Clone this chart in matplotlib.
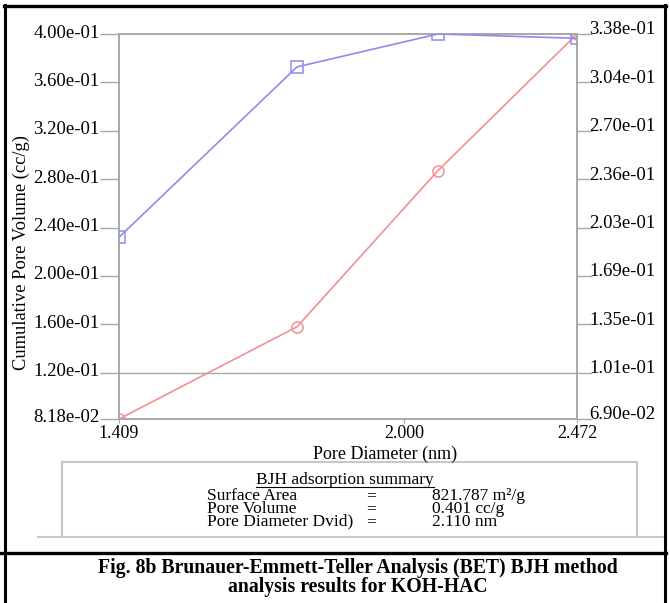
import matplotlib
matplotlib.use("Agg")
import matplotlib.pyplot as plt
from matplotlib.lines import Line2D
import matplotlib.transforms as mtransforms

plt.rcParams['font.family'] = ['Liberation Serif', 'DejaVu Serif']

# ---- data ----
pore_diameter = [1.409, 1.753, 2.084, 2.472]
cum_pore_volume = [0.0818, 0.158, 0.287, 0.400]      # red, left axis
second_series = [0.196, 0.315, 0.338, 0.335]         # blue, right axis
x_ticks = [1.409, 2.000, 2.472]
x_tick_labels = ["1.409", "2.000", "2.472"]
left_ticks = [0.0818, 0.12, 0.16, 0.20, 0.24, 0.28, 0.32, 0.36, 0.40]
right_tick_labels = ["6.90e-02", "1.01e-01", "1.35e-01", "1.69e-01", "2.03e-01",
                     "2.36e-01", "2.70e-01", "3.04e-01", "3.38e-01"]
left_range = (0.0818, 0.400)
right_range = (0.069, 0.338)
summary_labels = ['Surface Area', 'Pore Volume', 'Pore Diameter Dvid)']
summary_values = ['821.787 m²/g', '0.401 cc/g', '2.110 nm']

W, H = 670, 603
fig = plt.figure(figsize=(W / 100, H / 100), dpi=100)

def fx(x):
    return x / W

def fy(y):
    return 1 - y / H

GRAY = '#a8a8a8'
BLUE = '#8c8cf0'
RED = '#f29090'

ax = fig.add_axes([fx(119), fy(419), (577 - 119) / W, (419 - 34) / H])
ax.set_xscale('log')
ax.set_xlim(x_ticks[0], x_ticks[-1])
ax.set_ylim(*left_range)
ax.plot(pore_diameter, cum_pore_volume, color=RED, lw=1.2, marker='o',
        ms=8, mfc='none', mec=RED, mew=1.1, zorder=3)
ax.axhline(left_ticks[1], color=GRAY, lw=1.0, zorder=1)

ax2 = ax.twinx()
ax2.set_ylim(*right_range)
ax2.plot(pore_diameter, second_series, color=BLUE, lw=1.2, marker='s',
         ms=8, mfc='none', mec=BLUE, mew=1.1, zorder=3)

# ticks
ax.minorticks_off()
ax.xaxis.set_minor_locator(matplotlib.ticker.NullLocator())
ax.set_xticks(x_ticks)
ax.set_xticklabels(x_tick_labels, fontsize=13)
ax.tick_params(axis='x', length=3, color=GRAY, pad=1)

ax.set_yticks(left_ticks)
ax.set_yticklabels(['{:.2e}'.format(v) for v in left_ticks], fontsize=13.5)
ax.tick_params(axis='y', length=14, width=1.0, color=GRAY, pad=0)

lo, hi = left_range
rlo, rhi = right_range
right_ticks = [rlo + (v - lo) * (rhi - rlo) / (hi - lo) for v in left_ticks]
ax2.set_yticks(right_ticks)
ax2.set_yticklabels(right_tick_labels, fontsize=13.5)
ax2.tick_params(axis='y', length=11, width=1.0, color=GRAY, pad=-2)

off_l = mtransforms.ScaledTranslation(0, 3 / 100, fig.dpi_scale_trans)
off_r = mtransforms.ScaledTranslation(0, 6 / 100, fig.dpi_scale_trans)
for lab in ax.get_yticklabels():
    lab.set_transform(lab.get_transform() + off_l)
for lab in ax2.get_yticklabels():
    lab.set_transform(lab.get_transform() + off_r)

for a in (ax, ax2):
    for s in a.spines.values():
        s.set_color(GRAY)
        s.set_linewidth(1.2)

ax.set_ylabel('Cumulative Pore Volume (cc/g)', fontsize=13.3)
ax.yaxis.set_label_coords(fx(30), fy(253), transform=fig.transFigure)
fig.text(fx(385), fy(454), 'Pore Diameter (nm)', fontsize=13,
         ha='center', va='center')

# summary box
for (x0, y0, x1, y1) in [(62, 462, 637, 462), (62, 462, 62, 537),
                         (637, 462, 637, 537), (38, 537, 663, 537)]:
    fig.add_artist(Line2D([fx(x0), fx(x1)], [fy(y0), fy(y1)],
                          color='#c8c8c8', lw=1.5))

t = fig.text(fx(345), fy(480), 'BJH adsorption summary', fontsize=12.5,
             ha='center', va='center')
fig.canvas.draw()
bb = t.get_window_extent().transformed(fig.transFigure.inverted())
fig.add_artist(Line2D([bb.x0, bb.x1], [bb.y0 + 0.002, bb.y0 + 0.002],
                      color='black', lw=0.8))

fig.text(fx(207), fy(509), '\n'.join(summary_labels), fontsize=12.5,
         ha='left', va='center', linespacing=0.72)
fig.text(fx(366), fy(509), '\n'.join(['='] * len(summary_labels)), fontsize=12.5,
         ha='left', va='center', linespacing=0.72)
fig.text(fx(432), fy(509), '\n'.join(summary_values), fontsize=12.5,
         ha='left', va='center', linespacing=0.72)

# frame and caption
fig.add_artist(Line2D([fx(5), fx(5)], [fy(5), fy(603)], color='black', lw=2.2))
fig.add_artist(Line2D([fx(665), fx(665)], [fy(5), fy(603)], color='black', lw=2.2))
fig.add_artist(Line2D([fx(4), fx(666)], [fy(6), fy(6)], color='black', lw=2.4))
fig.add_artist(Line2D([fx(0), fx(666)], [fy(553), fy(553)], color='black', lw=2.4))

fig.text(fx(358), fy(568), 'Fig. 8b Brunauer-Emmett-Teller Analysis (BET) BJH method',
         fontsize=14.2, fontweight='bold', ha='center', va='center')
fig.text(fx(358), fy(587), 'analysis results for KOH-HAC',
         fontsize=14.2, fontweight='bold', ha='center', va='center')

fig.savefig('out.png', dpi=100)
